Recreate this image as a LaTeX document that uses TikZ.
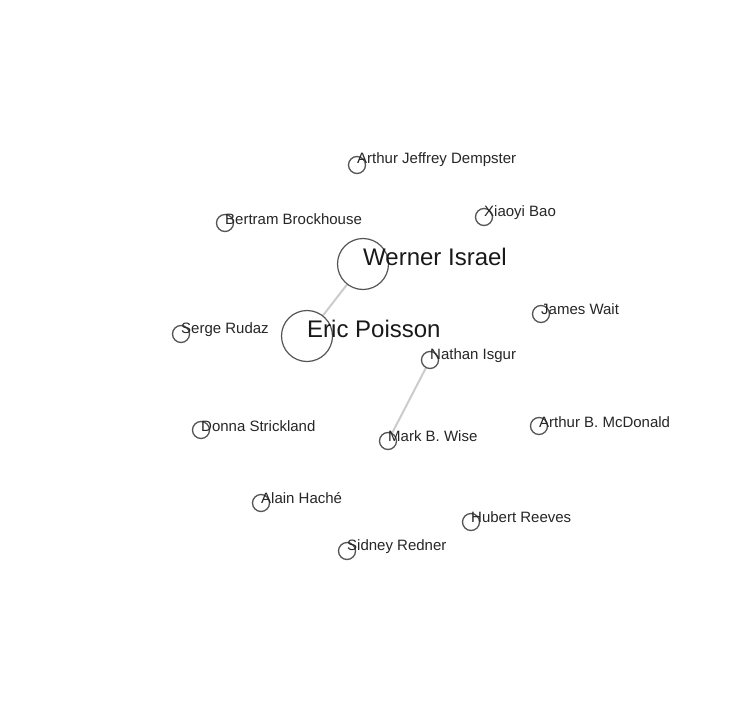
\documentclass[tikz,border=0pt]{standalone}
\usepackage{fontspec}
\setmainfont{Liberation Sans}
\definecolor{edgegray}{HTML}{CCCCCC}
\definecolor{ringgray}{HTML}{555555}
\begin{document}
\begin{tikzpicture}[x=1pt,y=-1pt,
  big/.style={circle,draw=ringgray,fill=white,line width=1.2pt,minimum size=51pt,inner sep=0pt},
  small/.style={circle,draw=ringgray,fill=white,line width=1.3pt,minimum size=17pt,inner sep=0pt},
  biglab/.style={anchor=west,inner sep=0pt,font=\fontsize{24}{26}\selectfont,text=black!90},
  smalllab/.style={anchor=west,inner sep=0pt,font=\fontsize{15}{17}\selectfont,text=black!85},
  link/.style={draw=edgegray,line width=2pt}]
\useasboundingbox[fill=white] (0,0) rectangle (728,728);
% edges
\coordinate (cwe) at (363,264);
\coordinate (cer) at (307,336);
\coordinate (cni) at (430,360);
\coordinate (cmw) at (388,441);
\path[link] (cwe) -- (cer);
\path[link] (cni) -- (cmw);
% nodes
\node[big] (we) at (cwe) {};
\node[big] (er) at (cer) {};
\node[small] (ajd) at (357,165) {};
\node[small] (xb) at (484,217) {};
\node[small] (bb) at (225,223) {};
\node[small] (jw) at (541,314) {};
\node[small] (sr) at (181,334) {};
\node[small] (ni) at (cni) {};
\node[small] (ds) at (201,430) {};
\node[small] (mw) at (cmw) {};
\node[small] (abm) at (539,426) {};
\node[small] (ah) at (261,503) {};
\node[small] (hr) at (471,522) {};
\node[small] (sd) at (347,551) {};
% labels
\node[biglab] (lwe) at (363,257) {Werner Israel};
\node[biglab] (ler) at (307,329) {Eric Poisson};
\node[smalllab] (lajd) at (357,160) {Arthur Jeffrey Dempster};
\node[smalllab] (lxb) at (484,213) {Xiaoyi Bao};
\node[smalllab] (lbb) at (225,219) {Bertram Brockhouse};
\node[smalllab] (ljw) at (541,309) {James Wait};
\node[smalllab] (lsr) at (181,330) {Serge Rudaz};
\node[smalllab] (lni) at (430,356) {Nathan Isgur};
\node[smalllab] (lds) at (201,426) {Donna Strickland};
\node[smalllab] (lmw) at (388,436) {Mark B. Wise};
\node[smalllab] (labm) at (539,422) {Arthur B. McDonald};
\node[smalllab] (lah) at (261,498) {Alain Haché};
\node[smalllab] (lhr) at (471,517) {Hubert Reeves};
\node[smalllab] (lsd) at (347,547) {Sidney Redner};
\end{tikzpicture}
\end{document}
